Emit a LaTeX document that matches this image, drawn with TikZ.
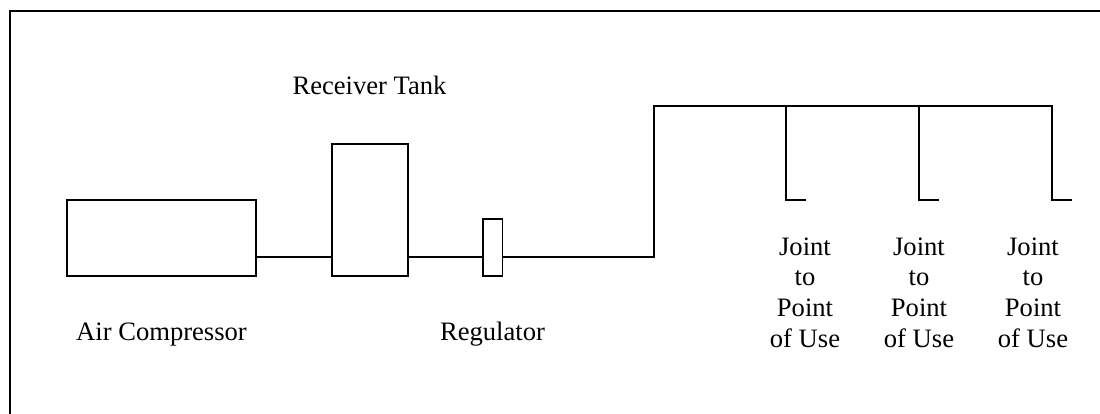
\documentclass[tikz,border=0pt]{standalone}
\usepackage{fontspec}
\setmainfont{Liberation Serif}
\begin{document}
\begin{tikzpicture}[x=1pt,y=-1pt,
  part/.style={draw=black,line width=1.8pt,fill=white,inner sep=0pt,outer sep=0pt,anchor=north west},
  pipe/.style={draw=black,line width=1.8pt},
  lab/.style={inner sep=0pt,font=\fontsize{26.6pt}{30.6pt}\selectfont,align=center,text=black},
  onelab/.style={lab,anchor=base}]
\useasboundingbox (0,0) rectangle (1100,414);
\fill[white] (0,0) rectangle (1100,414);
\draw[pipe,line width=2pt] (9.5,414) -- (9.5,11) -- (1100,11);
\node[part,minimum width=189pt,minimum height=75.7pt] (comp) at (67,200.3) {};
\node[part,minimum width=76pt,minimum height=132.3pt] (tank) at (331.8,143.7) {};
\node[part,minimum width=19.3pt,minimum height=56.7pt] (reg) at (483.2,219.3) {};
\coordinate (c1) at (654,257);
\coordinate (c2) at (654,105.7);
\coordinate (t1) at (786,105.7);
\coordinate (t2) at (919,105.7);
\coordinate (t3) at (1051.8,105.7);
\coordinate (b1) at (786,200.3);
\coordinate (b2) at (919,200.3);
\coordinate (b3) at (1051.8,200.3);
\coordinate (e1) at (806,200.3);
\coordinate (e2) at (939,200.3);
\coordinate (e3) at (1071.5,200.3);
\draw[pipe] (comp.east |- 0,257) -- (tank.west |- 0,257);
\draw[pipe] (tank.east |- 0,257) -- (reg.west |- 0,257);
\draw[pipe] (reg.east |- 0,257) -- (c1) -- (c2) -- (t3) -- (b3) -- (e3);
\draw[pipe] (t1) -- (b1) -- (e1);
\draw[pipe] (t2) -- (b2) -- (e2);
\node[onelab] (l1) at (369.5,94.3) {Receiver Tank};
\node[onelab] (l2) at (161.5,340.7) {Air Compressor};
\node[onelab] (l3) at (492.5,340.7) {Regulator};
\node[lab] (j1) at (805,292.5) {Joint\\to\\Point\\of Use};
\node[lab] (j2) at (919,292.5) {Joint\\to\\Point\\of Use};
\node[lab] (j3) at (1033,292.5) {Joint\\to\\Point\\of Use};
\end{tikzpicture}
\end{document}
